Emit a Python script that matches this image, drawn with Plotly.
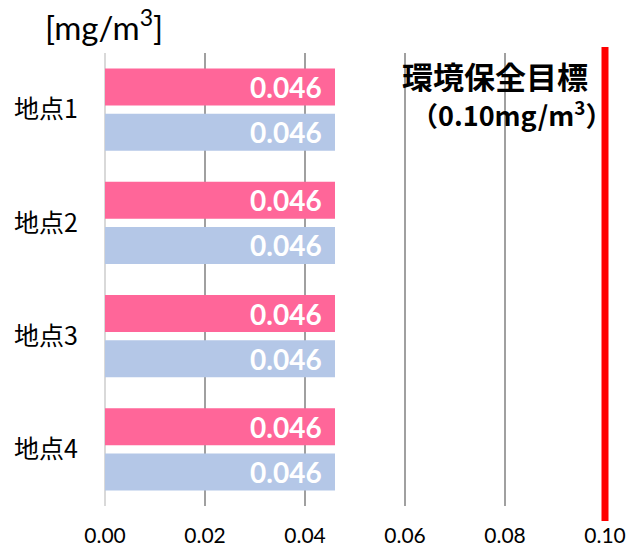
import plotly.graph_objects as go

# Measurement sites and values (mg/m3)
sites = ["地点1", "地点2", "地点3", "地点4"]
series_a = [0.046, 0.046, 0.046, 0.046]
series_b = [0.046, 0.046, 0.046, 0.046]
target = 0.10
x_ticks = [0.00, 0.02, 0.04, 0.06, 0.08, 0.10]

pink = "#FF6699"
blue = "#B4C7E7"
latin = "Lato, 'Noto Sans CJK JP', sans-serif"
cjk = "'Noto Sans CJK JP', Lato, sans-serif"

fig = go.Figure()
for vals, color in ((series_a, pink), (series_b, blue)):
    fig.add_trace(go.Bar(
        y=sites, x=vals, orientation="h",
        marker=dict(color=color, line=dict(width=0)),
        text=vals,
        texttemplate="%{x:.3f}\u00a0\u2009",
        textposition="inside",
        insidetextanchor="end",
        constraintext="none",
        textfont=dict(family=latin, size=28, color="white", weight="bold"),
        hoverinfo="skip",
    ))

# Environmental target line
fig.add_shape(type="line", xref="x", yref="paper",
              x0=target, x1=target, y0=-0.033, y1=1.013,
              line=dict(color="#FF0000", width=7), layer="above")

fig.add_annotation(
    xref="x", yref="paper", x=target, y=1, xanchor="right", yanchor="middle",
    xshift=-16, yshift=-22, height=34, borderpad=0, showarrow=False,
    text="<b>環境保全目標</b>",
    font=dict(family=cjk, size=31, color="black"),
)
fig.add_annotation(
    xref="x", yref="paper", x=target, y=1, xanchor="right", yanchor="middle",
    xshift=8, yshift=-60, borderpad=0, showarrow=False,
    text="<b>（0.10mg/m<sup>3</sup>）</b>",
    font=dict(family=cjk, size=27, color="black"),
)

fig.add_annotation(
    xref="paper", yref="paper", x=0, y=1, xanchor="left", yanchor="middle",
    xshift=-62, yshift=28, showarrow=False,
    text="[mg/m<sup>3</sup>]",
    font=dict(family=latin, size=33, color="black"),
)

fig.update_layout(
    width=628, height=546,
    margin=dict(l=105, r=19, t=53, b=40),
    paper_bgcolor="white", plot_bgcolor="white",
    barmode="group", bargap=0.205, bargroupgap=0.178,
    showlegend=False,
    xaxis=dict(
        range=[0, 0.1008], tickvals=x_ticks, tickformat=".2f",
        showgrid=True, gridcolor="#A0A0A0", gridwidth=1.5,
        zeroline=True, zerolinecolor="#D9D9D9", zerolinewidth=2,
        showline=False, ticks="", ticklabelstandoff=15, automargin=False,
        tickfont=dict(family=latin, size=21, color="black"),
    ),
    yaxis=dict(
        categoryorder="array", categoryarray=sites, autorange="reversed",
        showgrid=False, zeroline=False, showline=False, ticks="",
        ticklabelstandoff=26, automargin=False,
        tickfont=dict(family=cjk, size=25, color="black"),
    ),
)

fig.write_html("out.html")
